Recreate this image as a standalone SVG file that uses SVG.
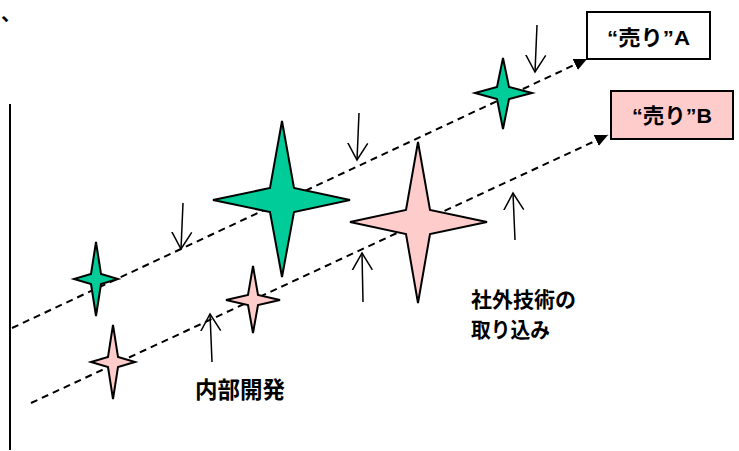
<svg xmlns="http://www.w3.org/2000/svg" width="739" height="451" viewBox="0 0 739 451">
<style>
.dash{fill:none;stroke:#000;stroke-width:2;stroke-dasharray:7,5}
.arr{fill:none;stroke:#000;stroke-width:1.5}
.star{stroke:#000;stroke-width:2;stroke-linejoin:miter}
.g{fill:#00CC99}
.p{fill:#FFCCCC}
.box{stroke:#000;stroke-width:2}
.t{font-family:"Liberation Sans","Noto Sans CJK JP",sans-serif;font-weight:bold;fill:#000}
</style>
<defs>
<marker id="tri" markerUnits="userSpaceOnUse" markerWidth="16" markerHeight="14" refX="13" refY="6" orient="auto">
<path d="M0,0 L13,6 L0,12 Z" fill="#000"/>
</marker>
<marker id="open" markerUnits="userSpaceOnUse" markerWidth="20" markerHeight="24" refX="17" refY="11" orient="auto">
<path d="M0,1 L17,11 L0,21" fill="none" stroke="#000" stroke-width="1.5"/>
</marker>
</defs>
<text x="1" y="21" font-size="20" font-family="Noto Sans CJK JP,sans-serif" font-weight="bold">、</text>
<line x1="10" y1="104" x2="10" y2="450" stroke="#000" stroke-width="2"/>
<g id="connectors">
<line class="dash" x1="12" y1="328" x2="587" y2="59" marker-end="url(#tri)"/>
<line class="dash" x1="31" y1="403" x2="608" y2="135" marker-end="url(#tri)"/>
<line class="arr" x1="183" y1="203" x2="181" y2="249" marker-end="url(#open)"/>
<line class="arr" x1="359" y1="113" x2="357" y2="160" marker-end="url(#open)"/>
<line class="arr" x1="537" y1="25" x2="535" y2="72" marker-end="url(#open)"/>
<line class="arr" x1="212" y1="362" x2="210" y2="314" marker-end="url(#open)"/>
<line class="arr" x1="363" y1="302" x2="362" y2="253" marker-end="url(#open)"/>
<line class="arr" x1="515" y1="240" x2="513" y2="193" marker-end="url(#open)"/>
</g>
<g id="starG1"><path class="star g" d="M96,242 L101,274 L118,279 L101,284 L96,316 L91,284 L74,279 L91,274 Z"/></g>
<g id="starG2"><path class="star g" d="M282,121 L294,188 L350,200 L294,212 L282,277 L270,212 L213,200 L270,188 Z"/></g>
<g id="starG3"><path class="star g" d="M503,58 L509,87 L532,93 L509,99 L503,129 L497,99 L475,93 L497,87 Z"/></g>
<g id="starP1"><path class="star p" d="M418,142 L430,210 L487,222 L430,234 L418,303 L406,234 L350,222 L406,210 Z"/></g>
<g id="starP2"><path class="star p" d="M253,266 L258,295 L280,300 L258,305 L253,333 L248,305 L226,300 L248,295 Z"/></g>
<g id="starP3"><path class="star p" d="M113,325 L118,357 L135,362 L118,367 L113,399 L108,367 L91,362 L108,357 Z"/></g>
<g id="boxA">
<rect class="box" x="587" y="12" width="123" height="47" fill="#fff"/>
<text class="t" x="607" y="45" font-size="21" textLength="83" lengthAdjust="spacingAndGlyphs">“売り”A</text>
</g>
<g id="boxB">
<rect class="box" x="611" y="91" width="122" height="48" fill="#FFCCCC"/>
<text class="t" x="632" y="123" font-size="21" textLength="80" lengthAdjust="spacingAndGlyphs">“売り”B</text>
</g>
<g id="labelInternal">
<text class="t" x="195" y="398" font-size="23" textLength="90" lengthAdjust="spacingAndGlyphs">内部開発</text>
</g>
<g id="labelExternal">
<text class="t" x="471" y="307" font-size="21" textLength="105" lengthAdjust="spacingAndGlyphs">社外技術の</text>
<text class="t" x="471" y="337" font-size="21" textLength="79" lengthAdjust="spacingAndGlyphs">取り込み</text>
</g>
</svg>
